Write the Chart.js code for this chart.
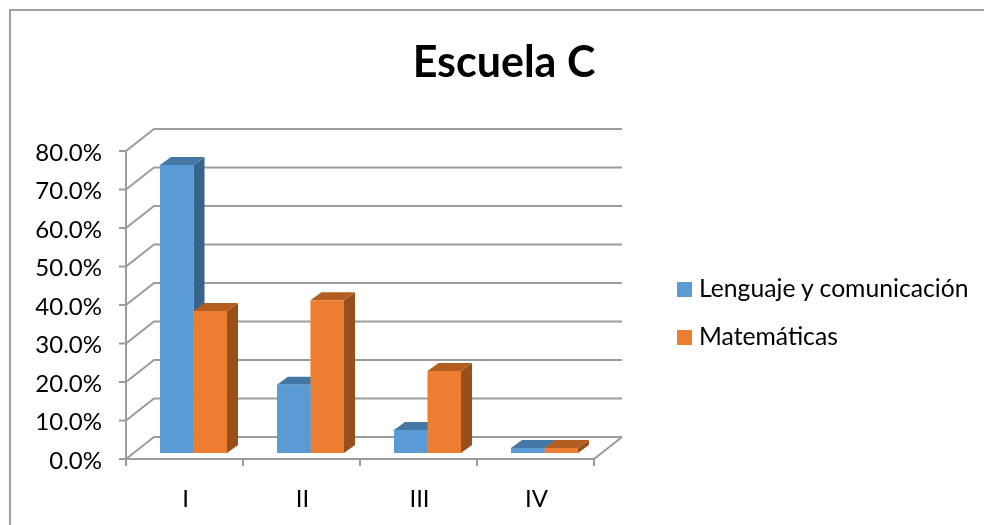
<!DOCTYPE html>
<html lang="es">
<head>
<meta charset="utf-8">
<title>Escuela C</title>
<script src="https://cdn.jsdelivr.net/npm/chart.js@4"></script>
<style>
    html, body { margin: 0; padding: 0; background: #fff; }
    #lienzo { position: relative; width: 984px; height: 525px; overflow: hidden; font-family: Lato, sans-serif; color: #000; }
    #marco { position: absolute; left: 9px; top: 9px; right: 0; bottom: 0; border-left: 2px solid #a0a0a0; border-top: 2px solid #a0a0a0; }
    #titulo { position: absolute; left: 304px; width: 400px; top: 34px; text-align: center; font-size: 43px; font-weight: 700; line-height: 54px; }
    #leyenda { position: absolute; left: 677px; top: 275px; font-size: 24.7px; line-height: 26px; }
    #leyenda div { height: 48px; white-space: nowrap; }
    #leyenda span { display: inline-block; width: 15px; height: 15px; margin-right: 7px; }
    canvas { position: absolute; left: 0; top: 0; }
</style>
</head>
<body>
<div id="lienzo">
    <div id="marco"></div>
    <canvas id="grafico" width="984" height="525"></canvas>
    <div id="titulo"></div>
    <div id="leyenda"></div>
</div>
<script>
const tituloGrafico = 'Escuela C';
const categorias = ['I', 'II', 'III', 'IV'];
const nombreLenguaje = 'Lenguaje y comunicación';
const nombreMatematicas = 'Matemáticas';
const valoresLenguaje = [74.8, 17.7, 6.0, 1.3];
const valoresMatematicas = [36.9, 39.7, 21.3, 1.3];

const GRIS = '#9c9c9c';
// fondo del cubo respecto al plano frontal
const fondoX = 28, fondoY = -22;
// las barras van a media profundidad
const barraX = 9, barraY = -6;
const caraX = 11, caraY = -8;

const colores3d = [
    { frente: '#5b9bd5', lado: '#38638a', tapa: '#4477a4' },
    { frente: '#ed7d31', lado: '#96501c', tapa: '#b35e20' }
];

const cubo3d = {
    id: 'cubo3d',
    beforeDatasetsDraw(chart) {
        const ctx = chart.ctx;
        const { x, y } = chart.scales;
        const a = chart.chartArea;

        ctx.save();
        ctx.strokeStyle = GRIS;
        ctx.lineWidth = 2;

        // lineas de la pared del fondo y de la pared izquierda
        y.ticks.forEach(function (t) {
            const py = y.getPixelForValue(t.value);
            ctx.beginPath();
            ctx.moveTo(a.left - 7, py);
            ctx.lineTo(a.left, py);
            ctx.lineTo(a.left + fondoX, py + fondoY);
            ctx.lineTo(a.right + fondoX, py + fondoY);
            ctx.stroke();
        });

        // eje vertical y suelo
        ctx.beginPath();
        ctx.moveTo(a.left, a.top);
        ctx.lineTo(a.left, a.bottom);
        ctx.lineTo(a.right, a.bottom);
        ctx.lineTo(a.right + fondoX, a.bottom + fondoY);
        ctx.stroke();

        // marcas del eje x
        for (let i = 0; i <= categorias.length; i++) {
            const px = a.left + (a.right - a.left) * i / categorias.length;
            ctx.beginPath();
            ctx.moveTo(px, a.bottom);
            ctx.lineTo(px, a.bottom + 7);
            ctx.stroke();
        }
        ctx.restore();

        // caras laterales y tapas, serie por serie
        ctx.save();
        ctx.translate(barraX, barraY);
        chart.data.datasets.forEach(function (ds, i) {
            chart.getDatasetMeta(i).data.forEach(function (barra) {
                const p = barra.getProps(['x', 'y', 'base', 'width'], true);
                const der = p.x + p.width / 2;
                const izq = p.x - p.width / 2;

                ctx.fillStyle = colores3d[i].lado;
                ctx.beginPath();
                ctx.moveTo(der, p.y);
                ctx.lineTo(der + caraX, p.y + caraY);
                ctx.lineTo(der + caraX, p.base + caraY);
                ctx.lineTo(der, p.base);
                ctx.closePath();
                ctx.fill();

                ctx.fillStyle = colores3d[i].tapa;
                ctx.beginPath();
                ctx.moveTo(izq, p.y);
                ctx.lineTo(izq + caraX, p.y + caraY);
                ctx.lineTo(der + caraX, p.y + caraY);
                ctx.lineTo(der, p.y);
                ctx.closePath();
                ctx.fill();
            });
        });
        ctx.restore();

        // las caras frontales las pinta chart.js encima
        ctx.save();
        ctx.translate(barraX, barraY);
    },
    afterDatasetsDraw(chart) {
        chart.ctx.restore();
    }
};

const chart = new Chart(document.getElementById('grafico').getContext('2d'), {
    type: 'bar',
    data: {
        labels: categorias,
        datasets: [
            { label: nombreLenguaje, data: valoresLenguaje, backgroundColor: colores3d[0].frente },
            { label: nombreMatematicas, data: valoresMatematicas, backgroundColor: colores3d[1].frente }
        ]
    },
    options: {
        responsive: false,
        animation: false,
        categoryPercentage: 0.573,
        barPercentage: 1,
        layout: { padding: { left: 0, right: 390, top: 151, bottom: 0 } },
        scales: {
            x: {
                grid: { display: false },
                border: { display: false },
                afterFit(scale) { scale.height = 66; },
                ticks: { color: '#000', font: { family: 'Lato', size: 24 }, padding: 18, maxRotation: 0, labelOffset: 1 }
            },
            y: {
                min: 0,
                max: 80,
                grid: { display: false },
                border: { display: false },
                afterFit(scale) { scale.width = 126; },
                ticks: {
                    stepSize: 10,
                    color: '#000',
                    font: { family: 'Lato', size: 24 },
                    padding: 16,
                    labelOffset: 2,
                    callback: function (v) { return v.toFixed(1) + '%'; }
                }
            }
        },
        plugins: {
            legend: { display: false },
            tooltip: { enabled: false }
        }
    },
    plugins: [cubo3d]
});

document.getElementById('titulo').textContent = tituloGrafico;
document.getElementById('leyenda').innerHTML = chart.data.datasets.map(function (ds) {
    return '<div><span style="background:' + ds.backgroundColor + '"></span>' + ds.label + '</div>';
}).join('');
</script>
</body>
</html>
